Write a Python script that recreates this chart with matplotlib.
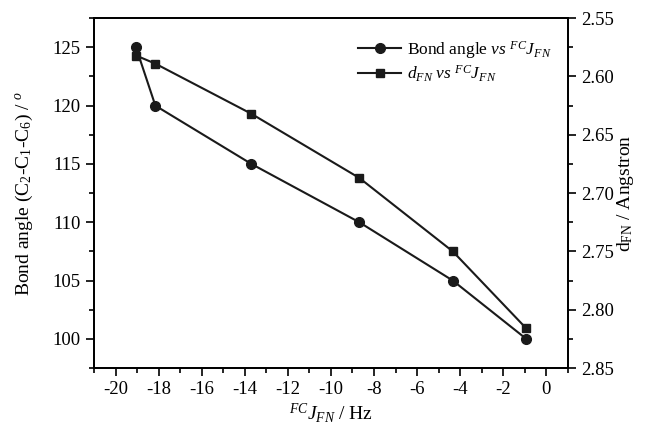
import matplotlib
matplotlib.use("Agg")
import matplotlib.pyplot as plt
from matplotlib.ticker import MultipleLocator, FormatStrFormatter

plt.rcParams['font.family'] = 'Liberation Serif'
plt.rcParams['mathtext.fontset'] = 'custom'
plt.rcParams['mathtext.rm'] = 'Liberation Serif'
plt.rcParams['mathtext.it'] = 'Liberation Serif:italic'
plt.rcParams['mathtext.bf'] = 'Liberation Serif:bold'
plt.rcParams['axes.unicode_minus'] = False

# data
j_fn = [-19.05, -18.15, -13.69, -8.68, -4.34, -0.93]
bond_angle = [125.0, 120.0, 115.0, 110.0, 105.0, 100.0]
d_fn = [2.582, 2.589, 2.632, 2.687, 2.750, 2.816]

fig = plt.figure(figsize=(6.46, 4.33), dpi=100)
ax = fig.add_axes([0.1455, 0.150, 0.7335, 0.808])
ax2 = ax.twinx()

l1, = ax.plot(j_fn, bond_angle, '-o', color='#1a1a1a', lw=1.5, ms=7,
              label=r'Bond angle $vs$ $^{FC}J_{FN}$')
l2, = ax2.plot(j_fn, d_fn, '-s', color='#1a1a1a', lw=1.5, ms=6,
               label=r'$d_{FN}$ $vs$ $^{FC}J_{FN}$')

ax.set_xlim(-21, 1)
ax.set_ylim(97.5, 127.5)
ax2.set_ylim(2.85, 2.55)

ax.xaxis.set_major_locator(MultipleLocator(2))
ax.xaxis.set_minor_locator(MultipleLocator(1))
ax.yaxis.set_major_locator(MultipleLocator(5))
ax.yaxis.set_minor_locator(MultipleLocator(2.5))
ax2.yaxis.set_major_locator(MultipleLocator(0.05))
ax2.yaxis.set_minor_locator(MultipleLocator(0.025))
ax2.yaxis.set_major_formatter(FormatStrFormatter('%.2f'))

for a in (ax, ax2):
    a.tick_params(which='major', direction='out', length=6, width=1.2, labelsize=13.5)
    a.tick_params(which='minor', direction='out', length=3.5, width=1.2)
    for s in a.spines.values():
        s.set_linewidth(1.3)

ax.set_xlabel(r'$^{FC}J_{FN}$ / Hz', fontsize=14, labelpad=2)
ax.set_ylabel(r'Bond angle (C$_2$-C$_1$-C$_6$) / $^o$', fontsize=14, labelpad=13)
ax2.set_ylabel(r'd$_{\rm FN}$ / Angstron', fontsize=14, labelpad=1)

ax.legend(handles=[l1, l2], loc='upper right', bbox_to_anchor=(0.998, 0.986),
          frameon=False, fontsize=12.5, handlelength=2.5, handletextpad=0.3,
          labelspacing=0.15)

fig.savefig('out.png', dpi=100)
